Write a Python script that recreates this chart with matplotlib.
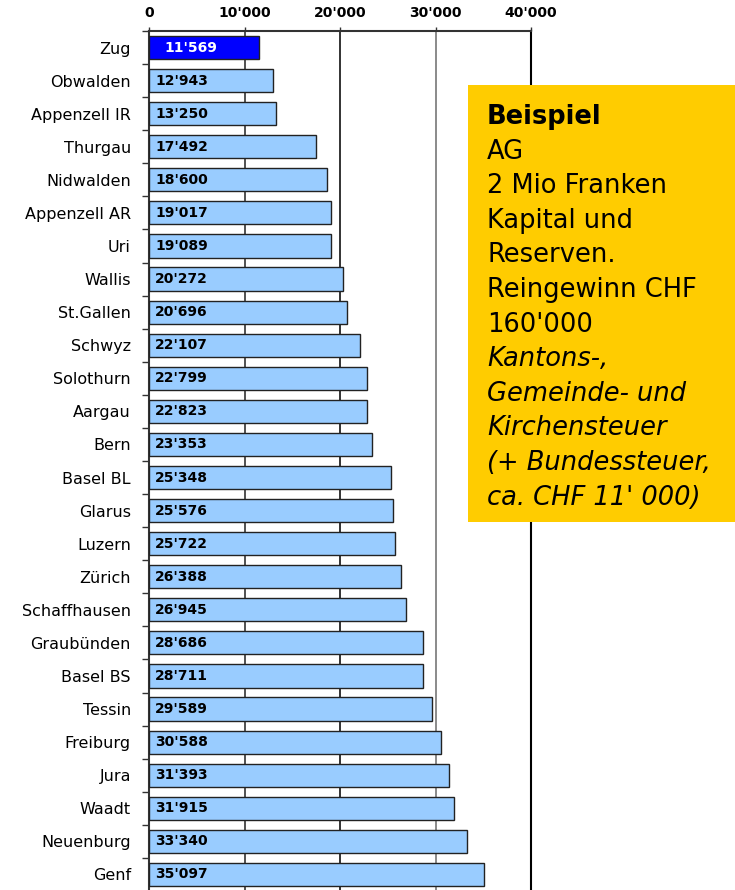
import matplotlib.pyplot as plt
from matplotlib.patches import Rectangle
import numpy as np

# Steuerbelastung nach Kanton (AG, Reingewinn CHF 160'000)
kantone = ["Zug", "Obwalden", "Appenzell IR", "Thurgau", "Nidwalden", "Appenzell AR",
           "Uri", "Wallis", "St.Gallen", "Schwyz", "Solothurn", "Aargau", "Bern",
           "Basel BL", "Glarus", "Luzern", "Zürich", "Schaffhausen", "Graubünden",
           "Basel BS", "Tessin", "Freiburg", "Jura", "Waadt", "Neuenburg", "Genf"]
steuer = [11569, 12943, 13250, 17492, 18600, 19017, 19089, 20272, 20696, 22107,
          22799, 22823, 23353, 25348, 25576, 25722, 26388, 26945, 28686, 28711,
          29589, 30588, 31393, 31915, 33340, 35097]
xticks = [0, 10000, 20000, 30000, 40000]
xtick_labels = ["0", "10'000", "20'000", "30'000", "40'000"]

box_lines = [("Beispiel", "bold"), ("AG", "normal"), ("2 Mio Franken", "normal"),
             ("Kapital und", "normal"), ("Reserven.", "normal"),
             ("Reingewinn CHF", "normal"), ("160'000", "normal"),
             ("Kantons-,", "italic"), ("Gemeinde- und", "italic"),
             ("Kirchensteuer", "italic"), ("(+ Bundessteuer,", "italic"),
             ("ca. CHF 11' 000)", "italic")]

plt.rcParams['font.family'] = ['DejaVu Sans']

W, H = 735, 890
fig = plt.figure(figsize=(W / 100, H / 100), dpi=100)
ax = fig.add_axes([149 / W, -1 / H, (531 - 149) / W, (891 - 31) / H])

y = np.arange(len(kantone))
farben = ['#0000FF'] + ['#99CCFF'] * (len(kantone) - 1)
ax.barh(y, steuer, height=0.7, color=farben, edgecolor='#222222', linewidth=1.0, zorder=3)

# Werte in die Balken schreiben
for i, v in enumerate(steuer):
    txt = f"{v:,}".replace(",", "'")
    if i == 0:
        ax.annotate(txt, (0, i), xytext=(11, 0), textcoords='offset points',
                    va='center', ha='left', fontsize=10, fontweight='bold', color='white', zorder=4)
    else:
        ax.annotate(txt, (0, i), xytext=(4.5, 0), textcoords='offset points',
                    va='center', ha='left', fontsize=10, fontweight='bold', color='black', zorder=4)

ax.set_xlim(0, 40000)
ax.set_ylim(len(kantone) - 0.5, -0.5)

# Gitterlinien
for gx, gc in zip([10000, 20000, 30000], ['#333333', '#111111', '#777777']):
    ax.axvline(gx, color=gc, linewidth=1.2, zorder=1)

ax.xaxis.tick_top()
ax.set_xticks(xticks)
ax.set_xticklabels(xtick_labels, fontsize=10, fontweight='bold')
ax.tick_params(axis='x', length=3, width=1, color='#333333', pad=5)

ax.set_yticks(y)
ax.set_yticklabels(kantone, fontsize=11.5)
ax.set_yticks(np.arange(len(kantone) + 1) - 0.5, minor=True)
ax.tick_params(axis='y', which='major', length=0, pad=13)
ax.tick_params(axis='y', which='minor', length=5, width=1, color='#333333')

for s in ['top', 'left']:
    ax.spines[s].set_color('#333333')
    ax.spines[s].set_linewidth(1.5)
ax.spines['right'].set_color('black')
ax.spines['right'].set_linewidth(1.5)
ax.spines['bottom'].set_visible(False)

# gelbe Box
fig.add_artist(Rectangle((468 / W, 1 - 522 / H), (W - 468) / W, (522 - 85) / H,
                         transform=fig.transFigure, facecolor='#FFCC00', edgecolor='none', zorder=5))
for k, (zeile, stil) in enumerate(box_lines):
    yb = 124 + 34.6 * k
    fig.text(487 / W, 1 - yb / H, zeile, fontsize=18.5, va='baseline', ha='left',
             fontweight='bold' if stil == 'bold' else 'normal',
             fontstyle='italic' if stil == 'italic' else 'normal', zorder=6)

plt.savefig('out.png', dpi=100)
